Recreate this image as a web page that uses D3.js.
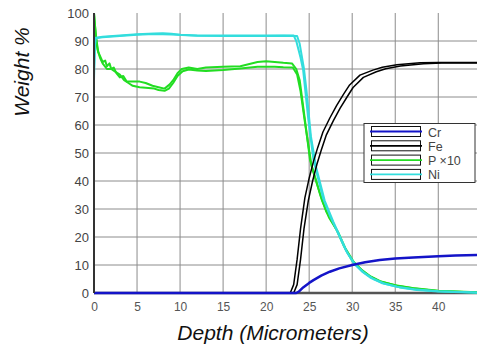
<!DOCTYPE html>
<html>
<head>
<meta charset="utf-8">
<script src="https://cdn.jsdelivr.net/npm/d3@7"></script>
<style>
  body { margin: 0; background: #fff; }
  svg { display: block; font-family: Arial, "Liberation Sans", sans-serif; }
</style>
</head>
<body>
<div id="chart"></div>
<script>
// tick labels
const xTicks = [0, 5, 10, 15, 20, 25, 30, 35, 40];
const yTicks = [0, 10, 20, 30, 40, 50, 60, 70, 80, 90, 100];

// series: [depth, weight %]
const crTrace = [[0,0],[23.5,0],[23.8,0.5],[24.3,2],[25,3.6],[25.5,4.6],[26.4,6.2],[27.4,7.6],[28.5,8.8],[30,10],
  [31.5,11],[33.2,11.8],[35,12.3],[37.1,12.7],[40,13.1],[42,13.4],[44.5,13.6]];

const feTraceA = [[0,0],[22.8,0],[23.2,3],[23.6,12],[24,23],[24.5,34],[25,41],[25.5,47],[26,52],[26.6,57.5],
  [27.4,62.5],[28.2,67],[29,71],[29.7,74.3],[30.9,77.8],[32.4,79.6],[33.5,80.6],[35.2,81.5],[37.9,82.2],[40,82.3],[44.5,82.3]];
const feTraceB = [[0,0],[23.2,0],[23.6,3],[24,12],[24.4,23],[24.9,33],[25.4,40],[25.9,46],[26.4,51],[27,56.5],
  [27.8,61.5],[28.6,66],[29.4,70],[30.1,73.4],[31.3,77],[32.8,79],[33.9,80.1],[35.6,81.1],[38.3,81.9],[40.4,82.1],[44.5,82.1]];

const pTraceA = [[0,100],[0.1,96],[0.3,90],[0.5,86],[0.8,84],[1,82.5],[1.3,83],[1.5,81],[1.8,82],[2,80],[2.3,80.5],
  [2.6,78.5],[3,77],[3.4,77.5],[3.8,75.5],[4.5,75.5],[5.3,75.5],[6,75],[6.8,74],[7.5,73.5],[8.2,73],[8.8,74.5],
  [9.2,76],[9.7,78.5],[10.2,80],[11,80.5],[12,80],[13,80.5],[15,80.8],[17,81],[19,82.5],[20,82.8],[21,82.5],
  [22,82.2],[23,82],[23.5,80],[23.9,76],[24.5,62],[25.1,47.5],[26.3,35],[27,29],[28.2,22.5],[29,17],[30,11.5],
  [31,8.5],[32,6],[33.2,4.2],[35,2.8],[37,1.8],[40,0.8],[44.5,0.3]];
const pTraceB = [[0,100],[0.2,92],[0.4,87],[0.7,84],[1,82],[1.5,80],[2,80],[2.5,79],[3,78],[3.5,76],[4,75],[4.5,74],
  [5.3,73.5],[6,73.3],[7,73],[7.5,72.5],[8.2,72.2],[8.7,73],[9.2,75],[9.7,77.5],[10.3,79.2],[11,79.8],[12,79.5],
  [13,79.3],[15,79.6],[17,80.2],[19,80.8],[21,80.8],[22,80.6],[23.1,80.5],[23.6,78],[24,72],[24.6,59],[25.3,45],
  [26.5,33],[27.3,27],[28.4,21.5],[29.2,16],[30.2,11],[31.2,8],[32.2,5.8],[33.4,4],[35.2,2.6],[37.2,1.6],[40,0.7],[44.5,0.2]];

const niTraceA = [[0,76],[0.1,88],[0.2,91.2],[1,91.5],[3,92],[5,92.4],[7,92.7],[8,92.8],[9,92.6],[10,92.2],[12,92],
  [15,92],[18,92],[20,92],[22,92],[23.2,92],[23.5,90],[24,84],[24.3,79.6],[24.9,62],[25.5,47.5],[26.6,34],[27.5,27],
  [28.4,21],[29.3,15],[30.2,10.5],[31.2,7.5],[32.2,5.3],[33.4,3.6],[35.2,2.2],[37.2,1.3],[40,0.6],[44.5,0.2]];
const niTraceB = [[0,80],[0.15,91],[1,91.3],[3,91.8],[5,92.2],[7,92.5],[9,92.3],[12,91.9],[15,91.8],[20,91.8],[22,91.9],
  [23.6,91.8],[23.9,89],[24.4,80],[24.7,72],[25.2,56],[25.8,45],[26.8,33],[27.8,25.5],[28.6,20],[29.5,14],[30.4,10],
  [31.5,7],[32.5,5],[33.7,3.4],[35.5,2],[37.5,1.1],[40,0.5],[44.5,0.1]];

const legendNames = ['Cr', 'Fe', 'P \u00d710', 'Ni'];
const legendColors = ['#1414c8', '#000000', '#22dd22', '#33dddd'];

const width = 477, height = 348;
const margin = {top: 13, right: 0, bottom: 55, left: 94};

const svg = d3.select('#chart').append('svg')
  .attr('width', width)
  .attr('height', height);

const x = d3.scaleLinear().domain([0, 44.5]).range([margin.left, width - margin.right]);
const y = d3.scaleLinear().domain([0, 100]).range([height - margin.bottom, margin.top]);

// grid
const grid = svg.append('g');
grid.selectAll('line.v')
  .data(xTicks.filter(d => d > 0))
  .enter().append('line')
  .attr('x1', d => x(d)).attr('x2', d => x(d))
  .attr('y1', y(100)).attr('y2', y(0))
  .attr('stroke', '#8c8c8c').attr('stroke-width', 1);
grid.selectAll('line.h')
  .data(yTicks.filter(d => d > 0 && d < 100))
  .enter().append('line')
  .attr('x1', x(0)).attr('x2', width)
  .attr('y1', d => y(d)).attr('y2', d => y(d))
  .attr('stroke', '#8c8c8c').attr('stroke-width', 1);

const line = d3.line().x(d => x(d[0])).y(d => y(d[1]));

function drawTrace(data, color, w) {
  svg.append('path')
    .attr('d', line(data))
    .attr('fill', 'none')
    .attr('stroke', color)
    .attr('stroke-width', w)
    .attr('stroke-linejoin', 'round');
}

// bottom axis line first so the zero-level traces sit on it
svg.append('line')
  .attr('x1', x(0)).attr('x2', width)
  .attr('y1', y(0)).attr('y2', y(0))
  .attr('stroke', '#555').attr('stroke-width', 2.5);

drawTrace(pTraceA, legendColors[2], 2);
drawTrace(pTraceB, legendColors[2], 2);
drawTrace(niTraceA, legendColors[3], 2);
drawTrace(niTraceB, legendColors[3], 2);
drawTrace(feTraceA, legendColors[1], 1.5);
drawTrace(feTraceB, legendColors[1], 1.5);
drawTrace(crTrace, legendColors[0], 2.5);

// left axis
svg.append('line')
  .attr('x1', x(0)).attr('x2', x(0))
  .attr('y1', y(100)).attr('y2', y(0))
  .attr('stroke', '#333').attr('stroke-width', 2);

// tick labels via d3 axes
const yAxis = svg.append('g')
  .attr('transform', `translate(${x(0) - 5},0)`)
  .call(d3.axisLeft(y).tickValues(yTicks).tickSize(0).tickPadding(0));
yAxis.select('.domain').remove();
yAxis.selectAll('text')
  .attr('font-size', 13).attr('fill', '#444')
  .attr('font-family', 'Arial, "Liberation Sans", sans-serif');

const xAxis = svg.append('g')
  .attr('transform', `translate(0,${y(0) + 9})`)
  .call(d3.axisBottom(x).tickValues(xTicks).tickSize(0).tickPadding(0));
xAxis.select('.domain').remove();
xAxis.selectAll('text')
  .attr('font-size', 12).attr('fill', '#555')
  .attr('font-family', 'Arial, "Liberation Sans", sans-serif');

// axis titles
svg.append('text')
  .attr('transform', 'translate(28.5,72) rotate(-90)')
  .attr('text-anchor', 'middle')
  .attr('font-size', 21).attr('font-style', 'italic')
  .attr('fill', '#111')
  .text('Weight %');

svg.append('text')
  .attr('x', 273).attr('y', 340)
  .attr('text-anchor', 'middle')
  .attr('font-size', 21).attr('font-style', 'italic')
  .attr('fill', '#111')
  .text('Depth (Micrometers)');

// legend
const legend = svg.append('g').attr('transform', 'translate(364,123.5)');
legend.append('rect')
  .attr('width', 111).attr('height', 59)
  .attr('fill', '#fff').attr('stroke', '#333').attr('stroke-width', 1);

const item = legend.selectAll('g.item')
  .data(legendNames)
  .enter().append('g')
  .attr('transform', (d, i) => `translate(0,${3 + i * 14.3})`);
item.append('rect')
  .attr('x', 7.5).attr('y', 0)
  .attr('width', 49).attr('height', 10)
  .attr('fill', '#fff').attr('stroke', '#111').attr('stroke-width', 1);
item.append('line')
  .attr('x1', 6).attr('x2', 58)
  .attr('y1', 5).attr('y2', 5)
  .attr('stroke', (d, i) => legendColors[i]).attr('stroke-width', 1.8);
item.append('text')
  .attr('x', 64).attr('y', 10)
  .attr('font-size', 12.5).attr('fill', '#444')
  .text(d => d);
</script>
</body>
</html>
